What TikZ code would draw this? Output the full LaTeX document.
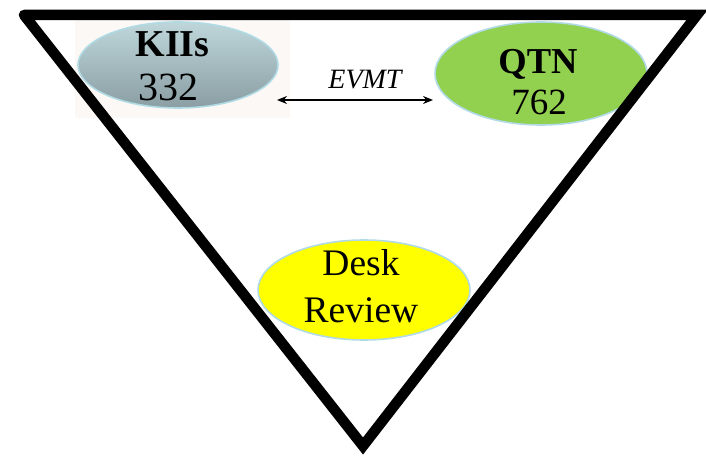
\documentclass[tikz,border=0pt]{standalone}
\usepackage{fontspec}
\setmainfont{Liberation Serif}
\usetikzlibrary{shapes.geometric,arrows.meta}
\definecolor{rim}{RGB}{176,218,228}
\definecolor{kiitop}{RGB}{190,214,218}
\definecolor{kiibot}{RGB}{138,158,163}
\definecolor{qtngreen}{RGB}{146,208,80}
\definecolor{deskyellow}{RGB}{255,255,0}
\definecolor{paper}{RGB}{251,248,246}
\tikzset{
  oval/.style={ellipse, draw=rim, line width=1.6pt, inner sep=0pt},
  lbl/.style={inner sep=0pt, anchor=base},
  frame/.style={line width=10.5pt, line cap=round, line join=miter},
}
\begin{document}
\begin{tikzpicture}[x=1pt,y=-1pt]
\useasboundingbox (0,0) rectangle (706,457);
% faint picture background behind KIIs
\fill[paper] (75,20) rectangle (290,118);
% ellipses
\node[oval, minimum width=200pt, minimum height=86pt,
      top color=kiitop, bottom color=kiibot] (kii) at (178,65) {};
\node[oval, minimum width=212pt, minimum height=103pt, fill=qtngreen] (qtn) at (541,73.5) {};
\node[oval, minimum width=212pt, minimum height=100pt, fill=deskyellow] (desk) at (364,290) {};
% triangle
\coordinate (tl) at (24,15);
\coordinate (tr) at (697,15);
\coordinate (bt) at (363,446);
\draw[frame] (tl) -- (tr) -- (bt) -- (tl);
% texts
\node[lbl] (kiit) at (172.5,57) {\fontsize{38}{40}\selectfont\bfseries KIIs};
\node[lbl] (kiin) at (168,100.5) {\fontsize{40}{42}\selectfont 332};
\node[lbl] (qtnt) at (538,73.5) {\fontsize{36.5}{40}\selectfont\bfseries QTN};
\node[lbl] (qtnn) at (539,115) {\fontsize{37}{40}\selectfont 762};
\node[lbl] (deskt) at (361,275) {\fontsize{37.5}{40}\selectfont Desk};
\node[lbl] (deskr) at (361,322) {\fontsize{37.5}{40}\selectfont Review};
\node[lbl] (evmt) at (365,88.5) {\fontsize{28}{30}\selectfont\itshape EVMT};
% arrow
\coordinate (al) at (277,100);
\coordinate (ar) at (433,100);
\draw[line width=1.6pt, {Stealth[length=10pt,width=8pt]}-{Stealth[length=10pt,width=8pt]}] (al) -- (ar);
\end{tikzpicture}
\end{document}
